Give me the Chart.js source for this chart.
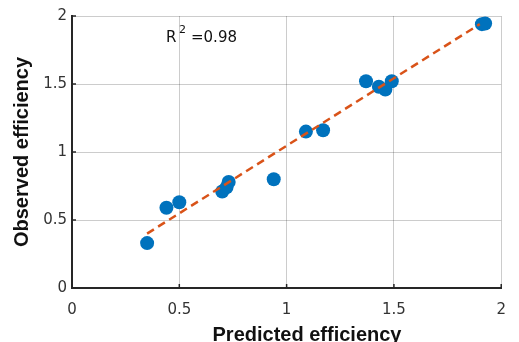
<!DOCTYPE html>
<html>
<head>
<meta charset="utf-8">
<script src="https://cdn.jsdelivr.net/npm/chart.js@4/dist/chart.umd.min.js"></script>
<style>
html,body{margin:0;padding:0;background:#fff;}
#c{display:block;}
</style>
</head>
<body>
<canvas id="c" width="519" height="342"></canvas>
<script>
const predicted = [0.35, 0.44, 0.50, 0.70, 0.72, 0.73, 0.94, 1.09, 1.17, 1.37, 1.43, 1.46, 1.49, 1.91, 1.925];
const observed  = [0.33, 0.59, 0.63, 0.71, 0.74, 0.78, 0.80, 1.15, 1.16, 1.52, 1.48, 1.46, 1.52, 1.94, 1.945];
const fitX = [0.35, 1.90];
const fitY = [0.40, 1.94];
const tickValues = [0, 0.5, 1, 1.5, 2];
const xTitle = 'Predicted efficiency';
const yTitle = 'Observed efficiency';
const r2Text = '=0.98';

const FONT = '"Liberation Sans", Arial, sans-serif';
const TICKFONT = '"DejaVu Sans", sans-serif';

const overlay = {
  id: 'overlay',
  afterDraw(chart) {
    const ctx = chart.ctx;
    const xs = chart.scales.x, ys = chart.scales.y;
    const a = chart.chartArea;
    ctx.save();
    // inner tick marks
    ctx.strokeStyle = '#262626';
    ctx.lineWidth = 1.5;
    tickValues.forEach(v => {
      const px = xs.getPixelForValue(v);
      ctx.beginPath(); ctx.moveTo(px, a.bottom); ctx.lineTo(px, a.bottom - 4); ctx.stroke();
      const py = ys.getPixelForValue(v);
      ctx.beginPath(); ctx.moveTo(a.left, py); ctx.lineTo(a.left + 4, py); ctx.stroke();
    });
    // axis titles
    ctx.fillStyle = '#111';
    ctx.font = 'bold 20px ' + FONT;
    ctx.textAlign = 'center';
    ctx.textBaseline = 'alphabetic';
    ctx.fillText(xTitle, 307, 341);
    ctx.translate(28, 152);
    ctx.rotate(-Math.PI / 2);
    ctx.fillText(yTitle, 0, 0);
    ctx.restore();
    // R^2 annotation
    ctx.save();
    ctx.fillStyle = '#111';
    ctx.textAlign = 'left';
    ctx.textBaseline = 'alphabetic';
    ctx.font = '15px ' + TICKFONT;
    ctx.fillText('R', 166, 42);
    ctx.font = '11px ' + TICKFONT;
    ctx.fillText('2', 179, 33);
    ctx.font = '15px ' + TICKFONT;
    ctx.fillText(r2Text, 191, 42);
    ctx.restore();
  }
};

new Chart(document.getElementById('c'), {
  data: {
    datasets: [
      {
        type: 'line',
        data: fitX.map((x, i) => ({x: x, y: fitY[i]})),
        borderColor: '#D95319',
        borderWidth: 2.5,
        borderDash: [8, 5],
        pointRadius: 0,
        fill: false,
        order: 0
      },
      {
        type: 'scatter',
        data: predicted.map((x, i) => ({x: x, y: observed[i]})),
        backgroundColor: '#0072BD',
        borderColor: '#0072BD',
        pointRadius: 7,
        borderWidth: 0,
        order: 1
      }
    ]
  },
  options: {
    responsive: false,
    animation: false,
    devicePixelRatio: 1,
    layout: {padding: {left: 0, right: 2, top: 16, bottom: 0}},
    plugins: {legend: {display: false}, tooltip: {enabled: false}},
    scales: {
      x: {
        type: 'linear', min: 0, max: 2,
        afterBuildTicks(s) { s.ticks = tickValues.map(v => ({value: v})); },
        afterFit(s) { s.height = 54; },
        grid: {color: 'rgba(0,0,0,0.2)', lineWidth: 1, tickLength: 0, drawTicks: false},
        border: {display: true, color: '#262626', width: 2},
        ticks: {
          color: '#333', padding: 13,
          font: {family: TICKFONT, size: 15},
          callback: v => String(v)
        }
      },
      y: {
        type: 'linear', min: 0, max: 2,
        afterBuildTicks(s) { s.ticks = tickValues.map(v => ({value: v})); },
        afterFit(s) { s.width = 72; },
        grid: {color: 'rgba(0,0,0,0.2)', lineWidth: 1, tickLength: 0, drawTicks: false},
        border: {display: true, color: '#262626', width: 2},
        ticks: {
          color: '#333', padding: 5,
          font: {family: TICKFONT, size: 15},
          callback: v => String(v)
        }
      }
    }
  },
  plugins: [overlay]
});
</script>
</body>
</html>
